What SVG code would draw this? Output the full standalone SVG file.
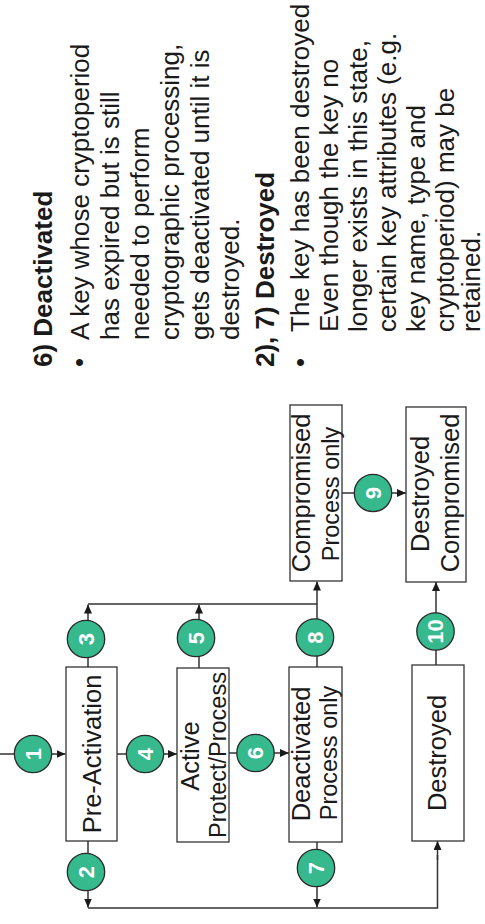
<svg xmlns="http://www.w3.org/2000/svg" width="485" height="924" viewBox="0 0 485 924">
<defs>
<style>
text{font-family:"Liberation Sans",Arial,Helvetica,sans-serif;fill:#1a1a1a}
.box{fill:#fff;stroke:#333;stroke-width:1.3}
.lbl{font-size:25.5px;text-anchor:middle}
.sub{font-size:23.5px;text-anchor:middle}
.num circle{fill:#35b98d;stroke:#2a2a2a;stroke-width:1.3}
.num text{font-size:22px;font-weight:bold;fill:#fff;text-anchor:middle}
.conn line,.conn polyline{stroke:#333;stroke-width:1.5;fill:none}
.arr{marker-end:url(#ah)}
.hd{font-size:26px;font-weight:bold}
.body{font-size:26px}
</style>
<marker id="ah" markerUnits="userSpaceOnUse" markerWidth="9" markerHeight="8" refX="9" refY="4" orient="auto">
<path d="M0,0 L9,4 L0,8 z" fill="#1a1a1a"/>
</marker>
</defs>
<rect width="485" height="924" fill="#fff"/>

<g id="connectors" class="conn">
<line class="arr" x1="0" y1="754" x2="65.5" y2="754"/>
<line class="arr" x1="117" y1="754" x2="177" y2="754"/>
<line class="arr" x1="229" y1="753" x2="289" y2="753"/>
<line class="arr" x1="342" y1="493" x2="406" y2="493"/>
<line class="arr" x1="436" y1="665" x2="436" y2="582"/>
<line class="arr" x1="88" y1="667" x2="88" y2="604.5"/>
<line class="arr" x1="199" y1="668" x2="199" y2="604.5"/>
<line class="arr" x1="317" y1="667" x2="317" y2="581.5"/>
<line x1="88" y1="604" x2="317" y2="604"/>
<line class="arr" x1="88" y1="841" x2="88" y2="907.5"/>
<line class="arr" x1="317" y1="842" x2="317" y2="907.5"/>
<polyline points="88,908 437.5,908 437.5,855"/>
<line class="arr" x1="437.5" y1="860" x2="437.5" y2="841"/>
</g>

<g id="pre-activation">
<rect class="box" x="66" y="667" width="51" height="174"/>
<text class="lbl" transform="translate(100.5,754) rotate(-90)">Pre-Activation</text>
</g>
<g id="active">
<rect class="box" x="177" y="668" width="52" height="174"/>
<text class="lbl" transform="translate(198.5,756) rotate(-90)">Active</text>
<text class="sub" transform="translate(226,755) rotate(-90)">Protect/Process</text>
</g>
<g id="deactivated">
<rect class="box" x="289" y="667" width="53" height="175"/>
<text class="lbl" transform="translate(310,754) rotate(-90)">Deactivated</text>
<text class="sub" transform="translate(337,753) rotate(-90)">Process only</text>
</g>
<g id="compromised">
<rect class="box" x="290" y="405" width="52" height="176"/>
<text class="lbl" transform="translate(310,493) rotate(-90)">Compromised</text>
<text class="sub" transform="translate(338.5,494) rotate(-90)">Process only</text>
</g>
<g id="destroyed-compromised">
<rect class="box" x="406" y="407" width="60" height="175"/>
<text class="lbl" transform="translate(428.5,494) rotate(-90)">Destroyed</text>
<text class="lbl" transform="translate(458.5,493) rotate(-90)">Compromised</text>
</g>
<g id="destroyed">
<rect class="box" x="412" y="665" width="52" height="176"/>
<text class="lbl" transform="translate(446,753) rotate(-90)">Destroyed</text>
</g>

<g id="n1" class="num"><circle cx="33" cy="754" r="18.7"/><text transform="translate(40.8,754) rotate(-90)">1</text></g>
<g id="n2" class="num"><circle cx="86" cy="872" r="18.7"/><text transform="translate(93.8,872) rotate(-90)">2</text></g>
<g id="n3" class="num"><circle cx="86" cy="639" r="18.7"/><text transform="translate(93.8,639) rotate(-90)">3</text></g>
<g id="n4" class="num"><circle cx="145" cy="754" r="18.7"/><text transform="translate(152.8,754) rotate(-90)">4</text></g>
<g id="n5" class="num"><circle cx="196" cy="638" r="18.7"/><text transform="translate(203.8,638) rotate(-90)">5</text></g>
<g id="n6" class="num"><circle cx="255.5" cy="753" r="18.7"/><text transform="translate(263.3,753) rotate(-90)">6</text></g>
<g id="n7" class="num"><circle cx="316" cy="868" r="18.7"/><text transform="translate(323.8,868) rotate(-90)">7</text></g>
<g id="n8" class="num"><circle cx="315" cy="637.5" r="18.7"/><text transform="translate(322.8,637.5) rotate(-90)">8</text></g>
<g id="n9" class="num"><circle cx="373" cy="493" r="18.7"/><text transform="translate(380.8,493) rotate(-90)">9</text></g>
<g id="n10" class="num"><circle cx="435.5" cy="631.5" r="18.7"/><text transform="translate(443.3,631.5) rotate(-90)">10</text></g>

<g id="notes">
<text class="hd" transform="translate(52,367) rotate(-90)">6) Deactivated</text>
<text class="body" transform="translate(88,367) rotate(-90)">•</text>
<text class="body" transform="translate(88.6,340) rotate(-90)"><tspan x="0" y="0">A key whose cryptoperiod</tspan><tspan x="0" dy="30">has expired but is still</tspan><tspan x="0" dy="30">needed to perform</tspan><tspan x="0" dy="30">cryptographic processing,</tspan><tspan x="0" dy="30">gets deactivated until it is</tspan><tspan x="0" dy="30">destroyed.</tspan></text>
<text class="hd" transform="translate(274,367) rotate(-90)">2), 7) Destroyed</text>
<text class="body" transform="translate(309,367) rotate(-90)">•</text>
<text class="body" transform="translate(308.6,332) rotate(-90)"><tspan x="0" y="0">The key has been destroyed</tspan><tspan x="0" dy="29">Even though the key no</tspan><tspan x="0" dy="29">longer exists in this state,</tspan><tspan x="0" dy="29">certain key attributes (e.g.</tspan><tspan x="0" dy="29">key name, type and</tspan><tspan x="0" dy="29">cryptoperiod) may be</tspan><tspan x="0" dy="26">retained.</tspan></text>
</g>
</svg>
